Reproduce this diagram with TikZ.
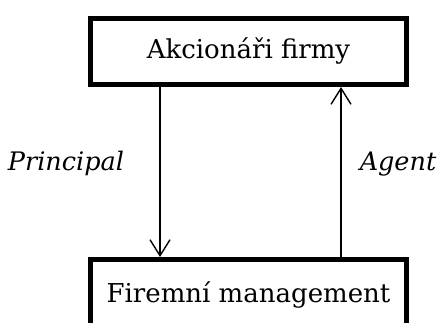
\documentclass[tikz,border=0pt]{standalone}
\usepackage{fontspec}
\setmainfont{DejaVu Serif}
\usetikzlibrary{arrows.meta}
\begin{document}
\begin{tikzpicture}[x=1pt,y=-1pt,
  party/.style={draw, line width=5pt, rectangle, minimum width=316pt,
    inner xsep=0pt, inner ysep=0pt, font=\fontsize{26}{30}\selectfont},
  flow/.style={line width=1.4pt, -{Straight Barb[length=16pt,width=20pt,line width=1.4pt]}},
  role/.style={font=\fontsize{25.5}{30}\selectfont\itshape, anchor=base}]
\useasboundingbox (0,0) rectangle (443,322);
% the two parties of the relationship
\node[party, text height=39.5pt, text depth=26.5pt, anchor=base] (owners) at (248.5,58) {Akcionáři firmy};
\node[party, text height=42.5pt, text depth=30pt, anchor=base] (mgmt) at (248.5,302) {Firemní management};
% vertical positions of the two connectors
\coordinate (down) at (160,170);
\coordinate (up) at (341,170);
\draw[flow] (owners.south -| down) -- (mgmt.north -| down);
\draw[flow] (mgmt.north -| up) -- (owners.south -| up);
% role labels
\node[role] (principal) at (66,170) {Principal};
\node[role] (agent) at (398,170) {Agent};
\end{tikzpicture}
\end{document}
